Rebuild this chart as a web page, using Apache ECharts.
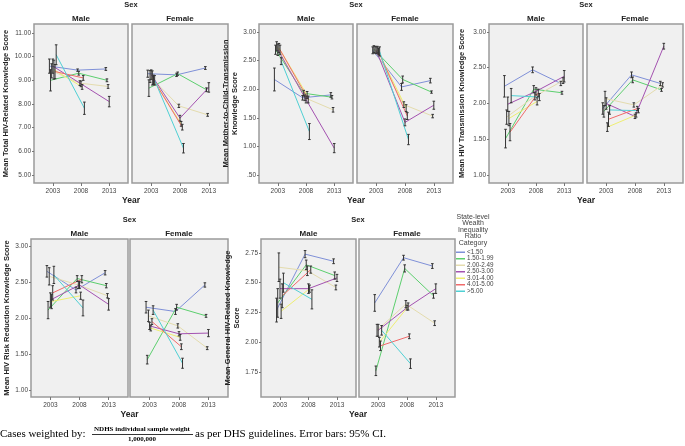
<!DOCTYPE html>
<html><head><meta charset="utf-8">
<script src="https://cdn.jsdelivr.net/npm/echarts@6/dist/echarts.min.js"></script>
<style>html,body{margin:0;padding:0;background:#fff}#c{width:685px;height:446px}</style>
</head><body><div id="c"></div><script>
// ---------- data ----------
const years = [2003, 2008, 2013];
const categories = ['<1.50', '1.50-1.99', '2.00-2.49', '2.50-3.00', '3.01-4.00', '4.01-5.00', '>5.00'];

// Total HIV-related knowledge
const totalTicks = [5, 6, 7, 8, 9, 10, 11];
const totalMale = [[9.60,9.43,9.48],[9.00,9.30,9.00],[9.40,8.88,8.74],[9.60,8.85,8.10],[9.45,8.72,null],[9.37,9.10,null],[10.08,7.82,null]];
const totalMaleCI = [[0.30,0.05,0.06],[0.45,0.08,0.06],[0.30,0.10,0.08],[0.30,0.12,0.22],[0.40,0.10,null],[0.30,0.10,null],[0.42,0.26,null]];
const totalFemale = [[9.28,9.23,9.52],[8.67,9.28,8.60],[9.16,7.92,7.54],[9.24,7.40,8.70],[9.10,7.16,null],[9.02,7.02,null],[9.00,6.13,null]];
const totalFemaleCI = [[0.15,0.07,0.06],[0.35,0.07,0.08],[0.25,0.07,0.06],[0.20,0.12,0.20],[0.30,0.10,null],[0.20,0.12,null],[0.20,0.20,null]];

// Mother-to-child transmission knowledge
const mtctTicks = [0.5, 1, 1.5, 2, 2.5, 3];
const mtctMale = [[2.17,1.85,1.90],[2.69,1.93,1.86],[2.75,1.85,1.64],[2.69,1.82,0.97],[2.72,1.90,null],[2.69,1.82,null],[2.49,1.26,null]];
const mtctMaleCI = [[0.20,0.04,0.04],[0.08,0.05,0.03],[0.08,0.05,0.04],[0.10,0.06,0.08],[0.08,0.06,null],[0.08,0.06,null],[0.06,0.14,null]];
const mtctFemale = [[2.68,2.04,2.15],[2.70,2.17,1.95],[2.69,1.73,1.53],[2.68,1.42,1.72],[2.69,1.67,null],[2.66,1.53,null],[2.66,1.12,null]];
const mtctFemaleCI = [[0.06,0.06,0.04],[0.06,0.06,0.02],[0.06,0.05,0.03],[0.06,0.06,0.07],[0.06,0.06,null],[0.06,0.06,null],[0.08,0.09,null]];

// HIV transmission knowledge
const transTicks = [1, 1.5, 2, 2.5, 3];
const transMale = [[2.24,2.47,2.28],[1.51,2.20,2.15],[1.81,2.10,2.32],[1.99,2.17,2.38],[1.79,2.03,null],[1.60,2.15,null],[2.11,2.09,null]];
const transMaleCI = [[0.15,0.04,0.03],[0.13,0.05,0.02],[0.10,0.05,0.04],[0.10,0.05,0.08],[0.10,0.05,null],[0.12,0.05,null],[0.10,0.05,null]];
const transFemale = [[1.93,2.40,2.28],[1.89,2.33,2.19],[2.07,1.98,2.26],[2.00,1.82,2.80],[1.67,1.84,null],[1.78,1.93,null],[1.91,1.90,null]];
const transFemaleCI = [[0.08,0.04,0.03],[0.08,0.04,0.02],[0.10,0.03,0.03],[0.08,0.03,0.04],[0.06,0.03,null],[0.10,0.03,null],[0.06,0.03,null]];

// HIV risk reduction knowledge
const riskTicks = [1, 1.5, 2, 2.5, 3];
const riskMale = [[2.65,2.39,2.63],[2.11,2.55,2.45],[2.58,2.46,2.31],[2.25,2.46,2.19],[2.23,2.31,null],[2.35,2.54,null],[2.60,2.14,null]];
const riskMaleCI = [[0.08,0.04,0.03],[0.12,0.04,0.03],[0.12,0.05,0.03],[0.10,0.05,0.08],[0.10,0.05,null],[0.10,0.05,null],[0.12,0.11,null]];
const riskFemale = [[2.15,2.09,2.46],[1.42,2.15,2.03],[2.03,1.89,1.58],[1.89,1.78,1.79],[1.86,1.73,null],[1.95,1.60,null],[2.11,1.37,null]];
const riskFemaleCI = [[0.08,0.04,0.03],[0.06,0.04,0.02],[0.08,0.03,0.02],[0.05,0.03,0.05],[0.04,0.04,null],[0.04,0.04,null],[0.06,0.07,null]];

// General HIV-related knowledge
const genTicks = [1.75, 2, 2.25, 2.5, 2.75];
const genMale = [[2.27,2.74,2.68],[2.33,2.65,2.56],[2.63,2.60,2.46],[2.45,2.45,2.54],[2.26,2.45,null],[2.39,2.61,null],[2.50,2.36,null]];
const genMaleCI = [[0.10,0.03,0.02],[0.12,0.04,0.03],[0.12,0.04,0.02],[0.08,0.04,0.03],[0.06,0.03,null],[0.10,0.03,null],[0.08,0.08,null]];
const genFemale = [[2.33,2.71,2.64],[1.76,2.62,2.39],[2.10,2.32,2.16],[2.10,2.29,2.45],[2.00,2.30,null],[1.97,2.05,null],[2.10,1.82,null]];
const genFemaleCI = [[0.07,0.02,0.02],[0.04,0.03,0.02],[0.05,0.03,0.02],[0.05,0.02,0.04],[0.04,0.03,null],[0.04,0.02,null],[0.04,0.04,null]];

// ---------- styles ----------
const colors = ['#7f90d8', '#5ccf6e', '#e4dcae', '#a452b0', '#eeee72', '#f06a6a', '#4fd0d4'];
const dodge = [-0.6, -0.4, -0.2, 0, 0.2, 0.4, 0.6];
const FONT = 'Liberation Sans, Arial, sans-serif';

const panels = [
  {m: totalMale, mc: totalMaleCI, f: totalFemale, fc: totalFemaleCI, ticks: totalTicks, range: [4.66, 11.38],
   name: 'Mean Total HIV-Related Knowledge Score', gap: 23, top: 24, h: 159, mL: 34, mW: 94, fL: 132, fW: 96},
  {m: mtctMale, mc: mtctMaleCI, f: mtctFemale, fc: mtctFemaleCI, ticks: mtctTicks, range: [0.36, 3.14],
   name: 'Mean Mother-to-Child-Transmission\nKnowledge Score', gap: 14, top: 24, h: 159, mL: 259, mW: 94, fL: 357, fW: 96},
  {m: transMale, mc: transMaleCI, f: transFemale, fc: transFemaleCI, ticks: transTicks, range: [0.89, 3.11],
   name: 'Mean HIV Transmission Knowledge Score', gap: 23, top: 24, h: 159, mL: 489, mW: 94, fL: 587, fW: 96},
  {m: riskMale, mc: riskMaleCI, f: riskFemale, fc: riskFemaleCI, ticks: riskTicks, range: [0.9, 3.1],
   name: 'Mean HIV Risk Reduction Knowledge Score', gap: 20, top: 239, h: 158, mL: 31, mW: 97, fL: 130, fW: 98},
  {m: genMale, mc: genMaleCI, f: genFemale, fc: genFemaleCI, ticks: genTicks, range: [1.54, 2.867],
   name: 'Mean General HIV-Related Knowledge\nScore', gap: 14, top: 239, h: 158, mL: 261, mW: 95, fL: 359, fW: 96}
];

const fmtY = v => { let s = Number(v).toFixed(2); if (s.startsWith('0.')) s = s.slice(1); return s; };

const grid = [], xAxis = [], yAxis = [], series = [], graphic = [];
let gi = 0;
panels.forEach(p => {
  [['Male', p.m, p.mc, p.mL, p.mW], ['Female', p.f, p.fc, p.fL, p.fW]].forEach(([sex, vals, cis, left, width], si) => {
    grid.push({left: left, top: p.top, width: width, height: p.h, show: true,
      backgroundColor: '#f0f0f0', borderColor: '#9a9a9a', borderWidth: 1.5});
    xAxis.push({gridIndex: gi, type: 'value', min: 1999.67, max: 2016.33,
      axisLine: {show: false}, splitLine: {show: false},
      axisTick: {show: true, customValues: years, length: 3, lineStyle: {color: '#777'}},
      axisLabel: {show: true, customValues: years, formatter: v => String(v), fontSize: 6.5, color: '#444', margin: 5, fontFamily: FONT}});
    yAxis.push({gridIndex: gi, type: 'value', min: p.range[0], max: p.range[1],
      name: si === 0 ? p.name : '', nameLocation: 'middle', nameRotate: 90, nameGap: p.gap,
      nameTextStyle: {fontSize: 7.5, fontWeight: 'bold', color: '#222', fontFamily: FONT, lineHeight: 9, align: 'center'},
      axisLine: {show: false}, splitLine: {show: false},
      axisTick: {show: si === 0, customValues: p.ticks, length: 2, lineStyle: {color: '#777'}},
      axisLabel: {show: si === 0, customValues: p.ticks, formatter: fmtY, fontSize: 6.5, color: '#444', margin: 3, fontFamily: FONT}});
    categories.forEach((cat, k) => {
      const pts = [], bars = [];
      years.forEach((yr, j) => {
        const v = vals[k][j];
        if (v == null) return;
        const x = yr + dodge[k];
        pts.push([x, v]);
        bars.push([x, v - cis[k][j], v + cis[k][j]]);
      });
      series.push({name: cat, type: 'line', xAxisIndex: gi, yAxisIndex: gi, data: pts,
        symbol: 'none', silent: true, z: 2, color: colors[k],
        lineStyle: {width: 1, color: colors[k]}});
      series.push({name: cat, type: 'custom', xAxisIndex: gi, yAxisIndex: gi, data: bars, z: 3, silent: true,
        renderItem: (params, api) => {
          const x = api.value(0);
          const a = api.coord([x, api.value(2)]), b = api.coord([x, api.value(1)]);
          const w = 1.3, st = {stroke: '#333', lineWidth: 1};
          return {type: 'group', children: [
            {type: 'line', shape: {x1: a[0], y1: a[1], x2: b[0], y2: b[1]}, style: st},
            {type: 'line', shape: {x1: a[0] - w, y1: a[1], x2: a[0] + w, y2: a[1]}, style: st},
            {type: 'line', shape: {x1: b[0] - w, y1: b[1], x2: b[0] + w, y2: b[1]}, style: st}
          ]};
        }});
    });
    graphic.push({type: 'text', left: left + width / 2, top: p.top - 5, style: {text: sex, x: 0, y: 0,
      font: 'bold 8px ' + FONT, fill: '#222', textAlign: 'center', textVerticalAlign: 'middle'}});
    gi++;
  });
  const cx = (p.mL + p.fL + p.fW) / 2;
  graphic.push({type: 'text', x: cx, y: p.top - 19, style: {text: 'Sex', font: 'bold 7.5px ' + FONT, fill: '#222', textAlign: 'center', textVerticalAlign: 'middle'}});
  graphic.push({type: 'text', x: cx, y: p.top + p.h + 18, style: {text: 'Year', font: 'bold 8.5px ' + FONT, fill: '#222', textAlign: 'center', textVerticalAlign: 'middle'}});
});
// fix Male/Female label positions (use x/y instead of left/top)
graphic.forEach(g => { if (g.left !== undefined) { g.x = g.left; g.y = g.top; delete g.left; delete g.top; } });

// legend title
graphic.push({type: 'text', x: 473, y: 230, style: {text: 'State-level\nWealth\nInequality\nRatio\nCategory',
  font: '7px ' + FONT, fill: '#444', textAlign: 'center', textVerticalAlign: 'middle', lineHeight: 6.5}});
// footer
const SERIF = 'Liberation Serif, Times New Roman, serif';
graphic.push({type: 'text', x: 0, y: 434, style: {text: 'Cases weighted by:', font: '11px ' + SERIF, fill: '#000', textVerticalAlign: 'middle'}});
graphic.push({type: 'text', x: 142, y: 429.5, style: {text: 'NDHS individual sample weight', font: 'bold 7px ' + SERIF, fill: '#000', textAlign: 'center', textVerticalAlign: 'middle'}});
graphic.push({type: 'line', shape: {x1: 92, y1: 434.5, x2: 193, y2: 434.5}, style: {stroke: '#000', lineWidth: 0.8}});
graphic.push({type: 'text', x: 142, y: 439.5, style: {text: '1,000,000', font: 'bold 7px ' + SERIF, fill: '#000', textAlign: 'center', textVerticalAlign: 'middle'}});
graphic.push({type: 'text', x: 195, y: 434, style: {text: 'as per DHS guidelines. Error bars: 95% CI.', font: '11px ' + SERIF, fill: '#000', textVerticalAlign: 'middle'}});

const chart = echarts.init(document.getElementById('c'), null, {renderer: 'canvas'});
chart.setOption({
  animation: false,
  textStyle: {fontFamily: FONT},
  legend: {data: categories, orient: 'vertical', left: 456, top: 249, padding: 0, itemGap: 0,
    itemWidth: 9, itemHeight: 1.5, icon: 'rect', selectedMode: false,
    textStyle: {fontSize: 6.3, lineHeight: 6.5, color: '#444', fontFamily: FONT, padding: [0, 0, 0, -3]}},
  grid, xAxis, yAxis, series, graphic
});
</script></body></html>
